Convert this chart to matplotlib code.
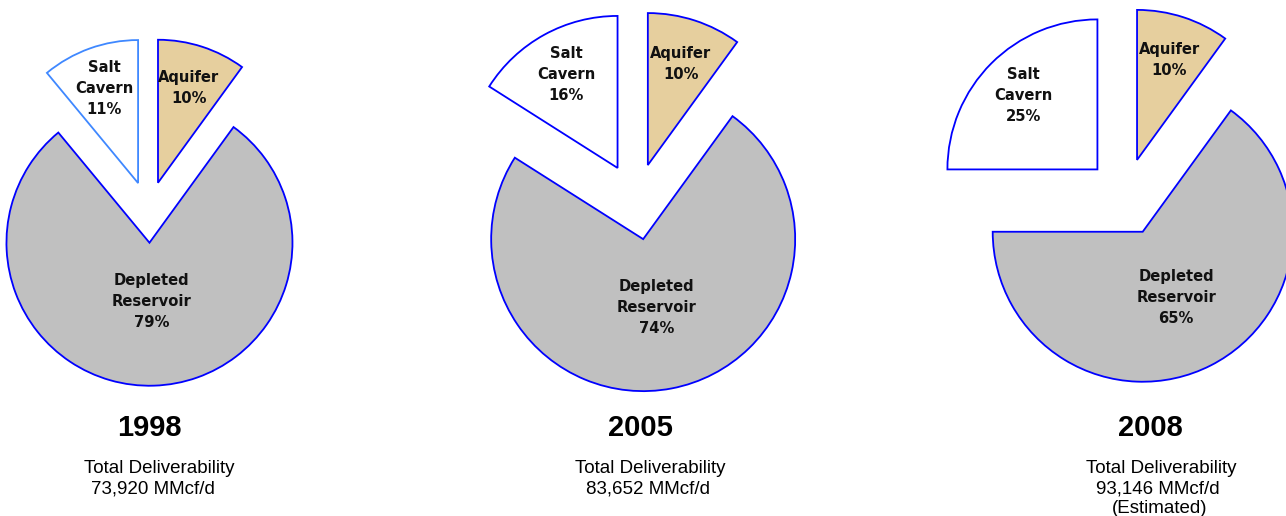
import numpy as np
import matplotlib.pyplot as plt

# storage deliverability shares by facility type (%)
years = ["1998", "2005", "2008"]
totals = ["73,920 MMcf/d", "83,652 MMcf/d", "93,146 MMcf/d"]
notes = ["", "", "(Estimated)"]
types = ["Aquifer", "Depleted\nReservoir", "Salt\nCavern"]
aquifer = [10, 10, 10]
depleted = [79, 74, 65]
salt = [11, 16, 25]

W, H = 1286, 516

# layout in pixels: pie centre, radius, explode fraction, depleted label distance
centres = [(148.5, 212), (636, 201.5), (1125, 197)]
radii = [143, 152, 150]
explodes = [0.215, 0.252, 0.26]
dep_dist = [0.41, 0.46, 0.49]
salt_edge = ["#3f88ff", "#0000ff", "#0000ff"]

fill = ["#e6cf9e", "#c0c0c0", "white"]

# text positions (pixels)
year_x = [149, 640, 1150]
total_x = [159.5, 650, 1161]
mmcf_x = [152.5, 648, 1158]

fig = plt.figure(figsize=(W / 100, H / 100), dpi=100)

L = 1.45
for i in range(3):
    cx, cy = centres[i]
    R = radii[i]
    half = L * R
    ax = fig.add_axes([(cx - half) / W, (H - cy - half) / H, 2 * half / W, 2 * half / H])
    vals = [aquifer[i], depleted[i], salt[i]]
    ex = explodes[i]
    wedges, _ = ax.pie(vals, colors=fill, startangle=90, counterclock=False,
                       explode=[ex, ex, ex],
                       wedgeprops=dict(edgecolor="#0000ff", linewidth=1.3))
    wedges[2].set_edgecolor(salt_edge[i])
    ax.set_xlim(-L, L)
    ax.set_ylim(-L, L)
    ax.axis("off")

    for j, w in enumerate(wedges):
        mid = np.deg2rad((w.theta1 + w.theta2) / 2)
        d = dep_dist[i] if j == 1 else 0.7
        x = w.center[0] + d * np.cos(mid)
        y = w.center[1] + d * np.sin(mid)
        ax.text(x, y, f"{types[j]}\n{vals[j]}%", ha="center", va="center",
                fontsize=10.6, fontweight="bold", family="DejaVu Sans",
                color="#111111", linespacing=1.5)

    fig.text(year_x[i] / W, 1 - 436 / H, years[i], ha="center", va="baseline",
             fontsize=21, fontweight="bold", family="Liberation Sans")
    fig.text(total_x[i] / W, 1 - 473 / H, "Total Deliverability", ha="center",
             va="baseline", fontsize=13.5, family="Liberation Sans")
    fig.text(mmcf_x[i] / W, 1 - 493 / H, totals[i], ha="center",
             va="baseline", fontsize=13.5, family="Liberation Sans")
    if notes[i]:
        fig.text(1160 / W, 1 - 513 / H, notes[i], ha="center",
                 va="baseline", fontsize=13.5, family="Liberation Sans")

fig.savefig("out.png", dpi=100)
